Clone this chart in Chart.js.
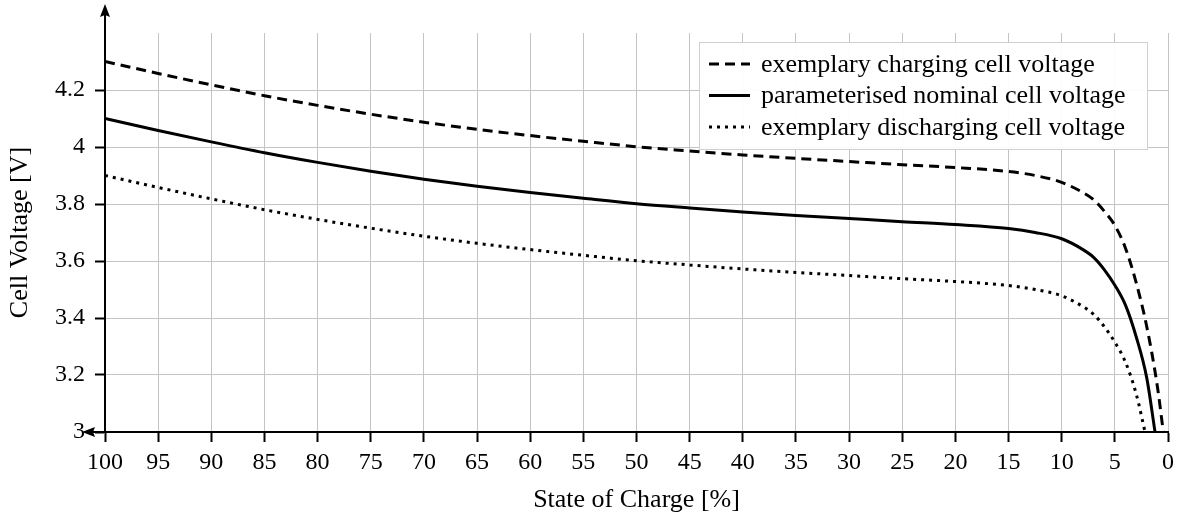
<!DOCTYPE html>
<html>
<head>
<meta charset="utf-8">
<script src="https://cdn.jsdelivr.net/npm/chart.js@4.4.1/dist/chart.umd.min.js"></script>
<style>
html,body{margin:0;padding:0;background:#fff;}
#wrap{width:1187px;height:520px;position:relative;}
</style>
</head>
<body>
<div id="wrap"><canvas id="c" width="1187" height="520"></canvas></div>
<script>
// ---- data ----
const socCharge = [100,95,90,85,80,75,70,65,60,55,50,45,40,35,30,25,20,15,12.5,10,8,7,6,5,4,3,2,1,0.44];
const vCharge   = [4.300,4.258,4.218,4.180,4.146,4.115,4.087,4.062,4.040,4.020,4.001,3.986,3.972,3.960,3.949,3.938,3.928,3.914,3.900,3.876,3.840,3.815,3.775,3.725,3.645,3.525,3.370,3.160,3.0];

const socNominal = [100,95,90,85,80,75,70,65,60,55,50,45,40,35,30,25,20,15,12.5,10,8,7,6,5,4,3,2,1.22];
const vNominal   = [4.100,4.058,4.018,3.980,3.946,3.915,3.887,3.862,3.840,3.820,3.801,3.786,3.772,3.760,3.749,3.738,3.728,3.714,3.700,3.678,3.640,3.613,3.570,3.515,3.445,3.335,3.190,3.0];

const socDischarge = [100,95,90,85,80,75,70,65,60,55,50,45,40,35,30,25,20,15,12.5,10,8,7,6,5,4,3,2.16];
const vDischarge   = [3.900,3.858,3.818,3.780,3.746,3.715,3.687,3.662,3.640,3.620,3.601,3.586,3.572,3.560,3.549,3.538,3.528,3.514,3.500,3.478,3.440,3.413,3.370,3.315,3.245,3.135,3.0];

const seriesLabels = ['exemplary charging cell voltage','parameterised nominal cell voltage','exemplary discharging cell voltage'];
const xTicks = [100,95,90,85,80,75,70,65,60,55,50,45,40,35,30,25,20,15,10,5,0];
const yTicks = [3,3.2,3.4,3.6,3.8,4,4.2];
const xTitle = 'State of Charge [%]';
const yTitle = 'Cell Voltage [V]';

// ---- chart ----
const FONT = "'Liberation Serif','Times New Roman',serif";
const FS_TICK = 24;
const FS_TEXT = 26;
const pts = (xs, ys) => xs.map((x, i) => ({x: x, y: ys[i]}));
const dashes = [[10,6], [], [3,5]];

const datasets = [
  {label: seriesLabels[0], data: pts(socCharge, vCharge)},
  {label: seriesLabels[1], data: pts(socNominal, vNominal)},
  {label: seriesLabels[2], data: pts(socDischarge, vDischarge)}
].map((d, i) => Object.assign(d, {
  borderColor: '#000', borderWidth: 3, borderDash: dashes[i], pointRadius: 0,
  fill: false, cubicInterpolationMode: 'monotone', borderCapStyle: 'butt'
}));

const decor = {
  id: 'decor',
  afterDraw(chart) {
    const ctx = chart.ctx, a = chart.chartArea;
    ctx.save();
    ctx.fillStyle = '#000'; ctx.strokeStyle = '#000'; ctx.lineWidth = 2;
    // y axis extension + arrow
    ctx.beginPath(); ctx.moveTo(a.left, a.top); ctx.lineTo(a.left, a.top - 20); ctx.stroke();
    ctx.beginPath();
    ctx.moveTo(a.left, a.top - 29);
    ctx.lineTo(a.left - 5, a.top - 16);
    ctx.lineTo(a.left, a.top - 18);
    ctx.lineTo(a.left + 5, a.top - 16);
    ctx.closePath(); ctx.fill();
    // x axis extension + arrow (left)
    ctx.beginPath(); ctx.moveTo(a.left, a.bottom); ctx.lineTo(a.left - 14, a.bottom); ctx.stroke();
    ctx.beginPath();
    ctx.moveTo(a.left - 23, a.bottom);
    ctx.lineTo(a.left - 10, a.bottom - 5);
    ctx.lineTo(a.left - 12, a.bottom);
    ctx.lineTo(a.left - 10, a.bottom + 5);
    ctx.closePath(); ctx.fill();

    // legend
    const w = 448, h = 107;
    const bx = a.right - 21 - w, by = a.top + 9;
    ctx.fillStyle = 'rgba(255,255,255,0.92)';
    ctx.fillRect(bx, by, w, h);
    ctx.strokeStyle = '#d0d0d0'; ctx.lineWidth = 1;
    ctx.strokeRect(bx + 0.5, by + 0.5, w, h);
    ctx.font = FS_TEXT + 'px ' + FONT;
    ctx.textBaseline = 'middle';
    ctx.textAlign = 'left';
    chart.data.datasets.forEach((ds, i) => {
      const cy = by + 22 + i * 31.5;
      ctx.strokeStyle = '#000'; ctx.lineWidth = 3;
      ctx.setLineDash(ds.borderDash || []);
      ctx.beginPath(); ctx.moveTo(bx + 10, cy); ctx.lineTo(bx + 51, cy); ctx.stroke();
      ctx.setLineDash([]);
      ctx.fillStyle = '#000';
      ctx.fillText(ds.label, bx + 62, cy + 1);
    });
    ctx.restore();
  }
};

new Chart(document.getElementById('c'), {
  type: 'line',
  data: {datasets: datasets},
  plugins: [decor],
  options: {
    responsive: false, animation: false,
    layout: {padding: {top: 33, right: 19, left: 0, bottom: 0}},
    plugins: {legend: {display: false}, tooltip: {enabled: false}},
    scales: {
      x: {
        type: 'linear', reverse: true, min: 0, max: 100,
        afterBuildTicks: s => { s.ticks = xTicks.map(v => ({value: v})); },
        afterFit: s => { s.height = 88; },
        ticks: {color: '#000', font: {family: FONT, size: FS_TICK}, padding: 6, maxRotation: 0, autoSkip: false,
                callback: v => String(v)},
        grid: {color: '#c4c4c4', lineWidth: 1, tickColor: '#000', tickLength: 10, tickWidth: 2},
        border: {color: '#000', width: 2},
        title: {display: true, text: xTitle, color: '#000', font: {family: FONT, size: FS_TEXT}, padding: {top: 0, bottom: 4}}
      },
      y: {
        min: 3, max: 4.4,
        afterBuildTicks: s => { s.ticks = yTicks.map(v => ({value: v})); },
        afterFit: s => { s.width = 105; },
        ticks: {color: '#000', font: {family: FONT, size: FS_TICK}, padding: 10, autoSkip: false,
                callback: v => String(v)},
        grid: {color: '#c4c4c4', lineWidth: 1, tickColor: '#000', tickLength: 10, tickWidth: 2},
        border: {color: '#000', width: 2},
        title: {display: true, text: yTitle, color: '#000', font: {family: FONT, size: FS_TEXT}, padding: {top: 5, bottom: 0}}
      }
    }
  }
});
</script>
</body>
</html>
